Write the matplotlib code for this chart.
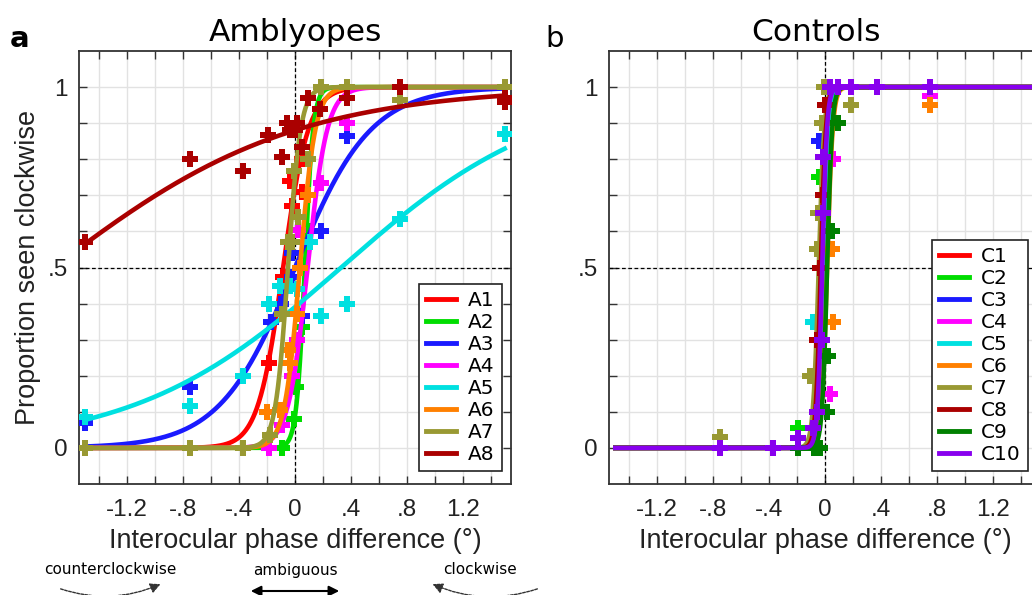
import numpy as np
import matplotlib
matplotlib.use("Agg")
import matplotlib.pyplot as plt
from matplotlib.patches import FancyArrowPatch

# ---------------------------------------------------------------
# data
# ---------------------------------------------------------------

# amblyopes: logistic fit (mu, scale) and raw points per subject
amb_names = ["A1", "A2", "A3", "A4", "A5", "A6", "A7", "A8"]
amb_colors = ["#ff0000", "#00dd00", "#1a1aff", "#ff00ff",
              "#00e0e0", "#ff8000", "#999933", "#aa0000"]
amb_mu = [-0.085, 0.07, 0.0, 0.09, 0.33, 0.035, -0.05, -1.73]
amb_s = [0.09, 0.03, 0.27, 0.07, 0.74, 0.055, 0.045, 0.867]
amb_px = [
    [-1.5, -0.75, -0.375, -0.1875, -0.085, -0.036, -0.024, 0.048, 0.048, 0.1875, 0.375, 0.75, 1.5],
    [-1.5, -0.75, -0.375, -0.1875, -0.094, -0.01, 0.01, 0.05, 0.094, 0.1875, 0.375, 0.75, 1.5],
    [-1.5, -0.75, -0.17, -0.1, -0.024, -0.024, 0.048, 0.1875, 0.375, 0.75, 1.5],
    [-1.5, -0.1875, -0.094, -0.024, 0.012, 0.024, 0.1875, 0.375, 0.75, 1.5],
    [-1.5, -0.75, -0.375, -0.1875, -0.107, -0.036, 0.012, 0.107, 0.1875, 0.375, 0.75, 1.5],
    [-0.2, -0.107, -0.05, -0.036, 0.012, 0.036, 0.094, 0.375, 1.5],
    [-1.5, -0.75, -0.375, -0.18, -0.095, -0.047, -0.024, 0.024, -0.01, 0.094, 0.1875, 0.375, 0.75, 1.5],
    [-1.5, -0.75, -0.375, -0.19, -0.095, -0.06, -0.036, 0.0, 0.012, 0.048, 0.095, 0.18, 0.375, 0.75, 1.5, 1.5],
]
amb_py = [
    [0, 0, 0, 0.235, 0.475, 0.74, 0.67, 0.71, 0.80, 1, 1, 1, 1],
    [0, 0, 0, 0, 0, 0.08, 0.17, 0.335, 0.6, 1, 1, 1, 1],
    [0.07, 0.17, 0.35, 0.40, 0.475, 0.54, 0.365, 0.60, 0.865, 1, 1],
    [0, 0, 0.064, 0.198, 0.30, 0.605, 0.735, 0.90, 1, 1],
    [0.085, 0.115, 0.20, 0.40, 0.45, 0.45, 0.44, 0.57, 0.365, 0.40, 0.635, 0.87],
    [0.10, 0.105, 0.27, 0.235, 0.37, 0.50, 0.70, 1, 1],
    [0, 0, 0, 0.036, 0.37, 0.57, 0.57, 0.64, 0.767, 0.80, 1, 1, 0.965, 1],
    [0.57, 0.80, 0.767, 0.867, 0.805, 0.90, 0.88, 0.88, 0.90, 0.833, 0.97, 0.94, 0.97, 1, 0.97, 0.96],
]

# controls
con_names = ["C1", "C2", "C3", "C4", "C5", "C6", "C7", "C8", "C9", "C10"]
con_colors = ["#ff0000", "#00dd00", "#1a1aff", "#ff00ff", "#00e0e0",
              "#ff8000", "#999933", "#aa0000", "#008000", "#8800ee"]
con_mu = [-0.02, -0.03, -0.025, -0.005, -0.01, 0.015, -0.045, -0.03, 0.015, -0.02]
con_s = [0.018, 0.018, 0.018, 0.018, 0.018, 0.02, 0.02, 0.018, 0.018, 0.017]
con_px = [
    [-0.19, 0.0],
    [-0.19, -0.04],
    [-0.04],
    [0.036, 0.06, 0.75],
    [-0.084],
    [0.055, 0.048, 0.75],
    [-0.75, -0.11, -0.06, -0.048, -0.024, -0.01, 0.1875],
    [-0.06, -0.036, -0.012, 0.0],
    [-0.19, -0.08, -0.036, 0.012, 0.024, 0.048, 0.096],
    [-0.75, -0.375, -0.19, -0.084, -0.06, -0.024, -0.012, -0.012, 0.036, 0.094, 0.1875, 0.375, 0.75],
]
con_py = [
    [0, 1],
    [0.055, 0.75],
    [0.85],
    [0.15, 0.80, 0.975],
    [0.35],
    [0.35, 0.55, 0.95],
    [0.03, 0.20, 0.55, 0.65, 0.90, 1.0, 0.95],
    [0.30, 0.50, 0.70, 0.95],
    [0, 0, 0, 0.10, 0.255, 0.60, 0.90],
    [0, 0, 0.027, 0.055, 0.10, 0.30, 0.65, 0.805, 1, 1, 1, 1, 1],
]

xtick_pos = [-1.4, -1.2, -1.0, -0.8, -0.6, -0.4, -0.2, 0.0, 0.2, 0.4, 0.6, 0.8, 1.0, 1.2, 1.4]
xtick_lab = ["", "-1.2", "", "-.8", "", "-.4", "", "0", "", ".4", "", ".8", "", "1.2", ""]
ytick_pos = [0.0, 0.1, 0.2, 0.3, 0.4, 0.5, 0.6, 0.7, 0.8, 0.9, 1.0]
ytick_lab = ["0", "", "", "", "", ".5", "", "", "", "", "1"]

# ---------------------------------------------------------------
# plotting
# ---------------------------------------------------------------

W, H = 1032, 595
fig = plt.figure(figsize=(W / 100, H / 100), dpi=100)

axA = fig.add_axes([79 / W, 111 / H, 432 / W, 433 / H])
axC = fig.add_axes([609 / W, 111 / H, 432 / W, 433 / H])

xx = np.linspace(-1.5, 1.5, 1200)


def logistic(x, mu, s):
    return 1.0 / (1.0 + np.exp(-(x - mu) / s))


def style_axes(ax):
    ax.set_xlim(-1.545, 1.545)
    ax.set_ylim(-0.1, 1.1)
    ax.set_xticks(xtick_pos)
    ax.set_xticklabels(xtick_lab, family="Liberation Sans", fontsize=17.5)
    ax.set_yticks(ytick_pos)
    ax.set_yticklabels(ytick_lab, family="Liberation Sans", fontsize=17.5)
    ax.tick_params(direction="in", length=6, width=1, color="#333333",
                   top=True, right=True, labelcolor="#222222")
    ax.tick_params(axis="x", pad=10.5)
    ax.tick_params(axis="y", pad=8)
    ax.grid(True, color="#e2e2e2", lw=1)
    ax.set_axisbelow(True)
    for sp in ax.spines.values():
        sp.set_color("#333333")
        sp.set_linewidth(1.3)
    ax.axvline(0, color="black", lw=0.9, ls=(0, (3, 2)), zorder=1)
    ax.axhline(0.5, color="black", lw=0.9, ls=(0, (3, 2)), zorder=1)
    ax.set_xlabel("Interocular phase difference (°)", family="Liberation Sans",
                  fontsize=19.5, color="#222222", labelpad=5)


def draw_group(ax, names, colors, mus, ss, pxs, pys):
    handles = []
    for i in range(len(names)):
        line, = ax.plot(xx, logistic(xx, mus[i], ss[i]), color=colors[i],
                        lw=3.3, label=names[i], zorder=3 + i)
        ax.plot(pxs[i], pys[i], ls="none", marker="P", ms=11.5, mew=0,
                color=colors[i], zorder=3 + i)
        handles.append(line)
    return handles


style_axes(axA)
hA = draw_group(axA, amb_names, amb_colors, amb_mu, amb_s, amb_px, amb_py)
axA.set_ylabel("Proportion seen clockwise", family="Liberation Sans",
               fontsize=19.5, color="#222222", labelpad=5)
axA.set_title("Amblyopes", fontsize=22.5, pad=7)

style_axes(axC)
hC = draw_group(axC, con_names, con_colors, con_mu, con_s, con_px, con_py)
axC.set_title("Controls", fontsize=22.5, pad=7, x=0.479)

leg_kw = dict(loc="lower right", borderaxespad=0, fontsize=14.5,
              labelspacing=0.15, handlelength=1.5, handletextpad=0.6,
              borderpad=0.35, fancybox=False, framealpha=1,
              edgecolor="#222222")
legA = axA.legend(handles=hA, bbox_to_anchor=(0.979, 0.03), **leg_kw)
legC = axC.legend(handles=hC, bbox_to_anchor=(0.970, 0.03), **leg_kw)
for leg in (legA, legC):
    leg.get_frame().set_linewidth(1.2)
    leg.set_zorder(20)
    for ln in leg.get_lines():
        ln.set_linewidth(3.5)

# panel letters
fig.text(10 / W, 1 - 47 / H, "a", fontsize=21, fontweight="bold", va="baseline")
fig.text(545 / W, 1 - 47 / H, "b", fontsize=21, va="baseline")

# direction annotations under panel a
fig.text(110 / W, 1 - 570 / H, "counterclockwise", fontsize=11, ha="center", va="center")
fig.text(295 / W, 1 - 570 / H, "ambiguous", fontsize=11, ha="center", va="center")
fig.text(480 / W, 1 - 570 / H, "clockwise", fontsize=11, ha="center", va="center")


def fpos(x, y):
    return (x / W, 1 - y / H)


fig.add_artist(FancyArrowPatch(fpos(248, 591), fpos(342, 591), transform=fig.transFigure,
                               arrowstyle="<|-|>,head_length=6,head_width=3",
                               color="black", lw=1.5))
fig.add_artist(FancyArrowPatch(fpos(58, 588), fpos(163, 583), transform=fig.transFigure,
                               connectionstyle="arc3,rad=0.2",
                               arrowstyle="-|>,head_length=6,head_width=3",
                               color="#333333", lw=1, ls=(0, (2, 1))))
fig.add_artist(FancyArrowPatch(fpos(540, 588), fpos(430, 583), transform=fig.transFigure,
                               connectionstyle="arc3,rad=-0.2",
                               arrowstyle="-|>,head_length=6,head_width=3",
                               color="#333333", lw=1, ls=(0, (2, 1))))

fig.savefig("out.png", dpi=100)
